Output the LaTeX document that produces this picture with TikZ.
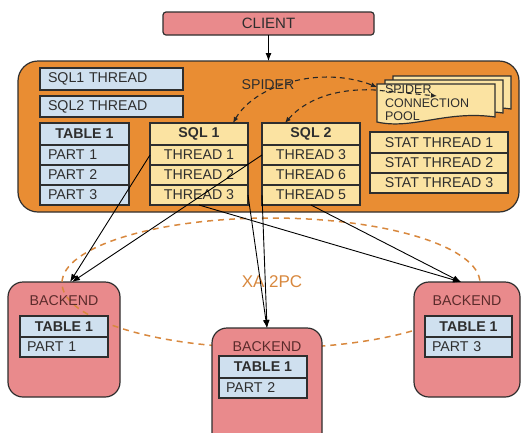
\documentclass[tikz,border=0pt]{standalone}
\usepackage{fontspec}
\setmainfont{Liberation Sans}
\usetikzlibrary{positioning,arrows.meta}
\definecolor{spiderorange}{HTML}{E98D33}
\definecolor{backpink}{HTML}{E98A8C}
\definecolor{cellblue}{HTML}{CFE0EF}
\definecolor{cellyellow}{HTML}{FBE3A2}
\definecolor{xaorange}{HTML}{D8883E}
\definecolor{inkgray}{HTML}{2E2E2E}
\definecolor{backtext}{HTML}{5B2B2B}
\begin{document}
\begin{tikzpicture}[x=1pt, y=-1pt,
  every node/.style={font=\fontsize{14.2}{15}\selectfont, text=inkgray, outer sep=0pt},
  cell/.style={draw=inkgray, line width=1.3pt, minimum height=20pt, inner sep=0pt},
  bluecell/.style={cell, fill=cellblue},
  yellowcell/.style={cell, fill=cellyellow},
  head/.style={font=\fontsize{14.2}{15}\selectfont\bfseries},
  leftcell/.style={text width=#1, align=left},
  backend/.style={draw=inkgray, line width=1.2pt, fill=backpink, rounded corners=15pt},
  link/.style={-{Latex[length=8pt,width=6pt]}, line width=0.9pt, black},
  dasharrow/.style={{Latex[length=6pt,width=5pt]}-{Latex[length=6pt,width=5pt]}, dash pattern=on 5pt off 4pt, line width=1.1pt, black!85},
  xadash/.style={draw=xaorange, line width=1.5pt, dash pattern=on 6pt off 5pt},
  pics/docsheet/.style={code={\draw[draw=inkgray, line width=1.2pt, fill=cellyellow]
    (0,0) -- (0,38) .. controls (35,46) and (70,26) .. (118,33) -- (118,0) -- cycle;}}]
\useasboundingbox (0,0) rectangle (521,432);
\clip (0,0) rectangle (521,432);

\node[draw=inkgray, line width=1.2pt, fill=backpink, rounded corners=3pt, minimum width=211pt, minimum height=23pt,
  font=\fontsize{15}{17}\selectfont] (client) at (268.5,23.5) {CLIENT};
\node[draw=inkgray, line width=1.2pt, fill=spiderorange, rounded corners=20pt, minimum width=501pt, minimum height=151pt] (spider) at (268.5,136.5) {};
\draw[link] (client) -- (spider.north);
\node (spiderlabel) at (268,85) {SPIDER};

\node[bluecell, minimum width=143pt, minimum height=22pt, leftcell=127pt] (sqlthread1) at (111.5,79) {SQL1 THREAD};
\node[bluecell, minimum width=143pt, minimum height=21pt, leftcell=127pt] (sqlthread2) at (111.5,106.5) {SQL2 THREAD};

\node[bluecell, head, minimum width=89pt, minimum height=22pt] (tab) at (84.5,134) {TABLE 1};
\node[bluecell, minimum width=89pt, leftcell=73pt, below=0pt of tab] (part1) {PART 1};
\node[bluecell, minimum width=89pt, leftcell=73pt, below=0pt of part1] (part2) {PART 2};
\node[bluecell, minimum width=89pt, leftcell=73pt, below=0pt of part2] (part3) {PART 3};

\node[yellowcell, head, minimum width=98pt, minimum height=22pt] (sql1) at (199,134) {SQL 1};
\node[yellowcell, minimum width=98pt, below=0pt of sql1] (sql1t1) {THREAD 1};
\node[yellowcell, minimum width=98pt, below=0pt of sql1t1] (sql1t2) {THREAD 2};
\node[yellowcell, minimum width=98pt, below=0pt of sql1t2] (sql1t3) {THREAD 3};

\node[yellowcell, head, minimum width=98pt, minimum height=22pt] (sql2) at (311,134) {SQL 2};
\node[yellowcell, minimum width=98pt, below=0pt of sql2] (sql2t1) {THREAD 3};
\node[yellowcell, minimum width=98pt, below=0pt of sql2t1] (sql2t2) {THREAD 6};
\node[yellowcell, minimum width=98pt, below=0pt of sql2t2] (sql2t5) {THREAD 5};

\node[yellowcell, minimum width=138pt, minimum height=21pt] (stat1) at (439,142.5) {STAT THREAD 1};
\node[yellowcell, minimum width=138pt, below=0pt of stat1] (stat2) {STAT THREAD 2};
\node[yellowcell, minimum width=138pt, below=0pt of stat2] (stat3) {STAT THREAD 3};

\pic at (393,76) {docsheet};
\pic at (385,80) {docsheet};
\pic at (377,84) {docsheet};
\node[align=left, anchor=north west, inner sep=1pt, font=\fontsize{12.5}{13.5}\selectfont] (pool) at (384,84) {SPIDER\\CONNECTION\\POOL};
\coordinate (poolin1) at (377,87);
\coordinate (poolin2) at (437,96);
\draw[dasharrow] ([xshift=34pt]sql1.north) .. controls (255,85) and (320,65) .. (poolin1);
\draw[dasharrow] ([xshift=-26pt]sql2.north) .. controls (305,100) and (335,88) .. (375,90) -- (poolin2);

\node[backend, minimum width=112pt, minimum height=115pt] (be1) at (64,339.5) {};
\draw[xadash] (271,283) ellipse [x radius=209, y radius=65];
\node[backend, minimum width=110pt, minimum height=130pt] (be2) at (267,393) {};
\node[backend, minimum width=106pt, minimum height=115pt] (be3) at (467,339.5) {};

\node[below=10pt of be1.north, text=backtext] (be1label) {BACKEND};
\node[bluecell, head, minimum width=88pt, minimum height=21pt] (be1tab) at (64,326.5) {TABLE 1};
\node[bluecell, minimum width=88pt, leftcell=74pt, below=0pt of be1tab] (be1part) {PART 1};

\node[below=10pt of be2.north, text=backtext] (be2label) {BACKEND};
\node[bluecell, head, minimum width=88pt, minimum height=22pt] (be2tab) at (263,367) {TABLE 1};
\node[bluecell, minimum width=88pt, leftcell=74pt, below=0pt of be2tab] (be2part) {PART 2};

\node[below=10pt of be3.north, text=backtext] (be3label) {BACKEND};
\node[bluecell, head, minimum width=87pt, minimum height=21pt] (be3tab) at (468.5,326.5) {TABLE 1};
\node[bluecell, minimum width=87pt, leftcell=73pt, below=0pt of be3tab] (be3part) {PART 3};

\node[text=xaorange, font=\fontsize{17}{19}\selectfont] (xa) at (272,282) {XA 2PC};

\draw[link] (sql1t1.west) -- ([xshift=6pt]be1.north);
\draw[link] (sql2t1.west) -- ([xshift=8pt]be1.north);
\draw[link] (sql1t3.south) -- ([xshift=-6pt]be3.north);
\draw[link] (sql2t5.south) -- ([xshift=-6pt]be3.north);
\draw[link] (sql1t3.east) -- (be2.north);
\draw[link] (sql2t5.west) -- (be2.north);
\end{tikzpicture}
\end{document}
